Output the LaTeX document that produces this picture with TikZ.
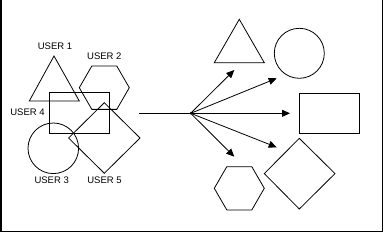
\documentclass[tikz,border=0pt]{standalone}
\usepackage{fontspec}
\setmainfont{Liberation Sans}
\usetikzlibrary{arrows.meta}
\begin{document}
\begin{tikzpicture}[x=1pt,y=-1pt,
  shp/.style={draw=black,line width=0.8pt},
  lbl/.style={font=\fontsize{9.5}{11}\selectfont,inner sep=0pt},
  arr/.style={draw=black,line width=0.8pt,-{Triangle[length=8pt,width=7pt]}},
  frm/.style={draw=black,line width=1.5pt}]
\useasboundingbox (0,0) rectangle (384,233);
% frame
\draw[frm] (0.75,0) -- (0.75,231.5) -- (382.5,231.5) -- (382.5,0);
% left group
\draw[shp] (54,56) -- (79.3,101) -- (29.3,101) -- cycle;
\draw[shp] (129.3,87.7) -- (116.8,109.35) -- (91.8,109.35) -- (79.3,87.7) -- (91.8,66.05) -- (116.8,66.05) -- cycle;
\draw[shp] (49,92.7) rectangle (109.3,133.3);
\draw[shp] (53.3,148.3) circle[radius=25.3];
\draw[shp] (104.3,102.7) -- (140,138) -- (104.3,173.3) -- (68.6,138) -- cycle;
\node[lbl] (u1) at (55,46.7) {USER 1};
\node[lbl] (u2) at (104.3,56.7) {USER 2};
\node[lbl] (u4) at (27.5,112) {USER 4};
\node[lbl] (u3) at (51.7,180.3) {USER 3};
\node[lbl] (u5) at (104.5,180.3) {USER 5};
% connectors
\coordinate (start) at (139,113.3);
\coordinate (hub) at (190.7,113.3);
\coordinate (t1) at (234.3,70);
\coordinate (t2) at (276.7,78.3);
\coordinate (t3) at (290,113.3);
\coordinate (t4) at (276.7,147.3);
\coordinate (t5) at (234.3,156.7);
\draw[shp] (start) -- (hub);
\fill (hub) circle[radius=1.2];
\draw[arr] (hub) -- (t1);
\draw[arr] (hub) -- (t2);
\draw[arr] (hub) -- (t3);
\draw[arr] (hub) -- (t4);
\draw[arr] (hub) -- (t5);
% right group
\draw[shp] (239.3,19.3) -- (264.3,62.7) -- (214.3,62.7) -- cycle;
\draw[shp] (299.3,53.3) circle[radius=25];
\draw[shp] (299.3,93.3) rectangle (359.3,133.3);
\draw[shp] (264.3,188.3) -- (251.8,209.95) -- (226.8,209.95) -- (214.3,188.3) -- (226.8,166.65) -- (251.8,166.65) -- cycle;
\draw[shp] (299.3,138.3) -- (335,173.6) -- (299.3,209) -- (264.3,173.6) -- cycle;
\end{tikzpicture}
\end{document}
